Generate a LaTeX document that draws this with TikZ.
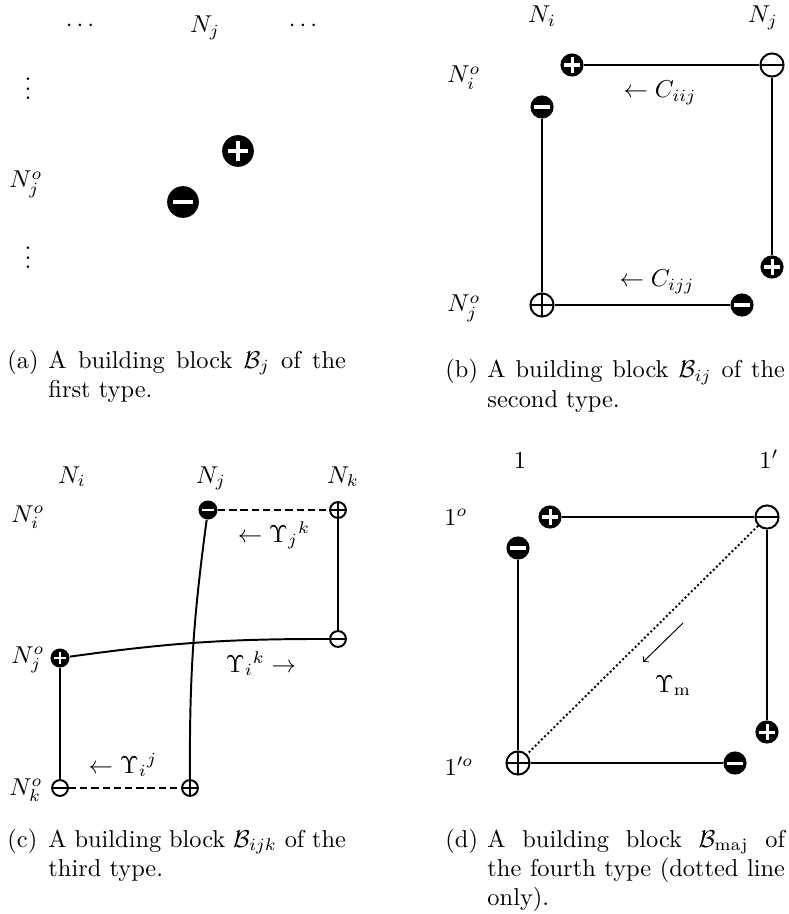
\documentclass[tikz,border=0pt]{standalone}
\tikzset{
  sgn/.style={circle, inner sep=0pt, minimum size=#1},
  fp/.style={sgn=#1, fill=black, path picture={
      \draw[white, line width=0.13*#1]
        ([xshift=-0.33*#1]path picture bounding box.center) -- ([xshift=0.33*#1]path picture bounding box.center)
        ([yshift=-0.33*#1]path picture bounding box.center) -- ([yshift=0.33*#1]path picture bounding box.center);}},
  fm/.style={sgn=#1, fill=black, path picture={
      \draw[white, line width=0.13*#1]
        ([xshift=-0.33*#1]path picture bounding box.center) -- ([xshift=0.33*#1]path picture bounding box.center);}},
  op/.style={sgn=#1, draw, fill=white, thick, path picture={
      \draw[thick] (path picture bounding box.west) -- (path picture bounding box.east)
        (path picture bounding box.north) -- (path picture bounding box.south);}},
  om/.style={sgn=#1, draw, fill=white, thick, path picture={
      \draw[thick] (path picture bounding box.west) -- (path picture bounding box.east);}},
  lbl/.style={inner sep=0pt, anchor=base},
  sublbl/.style={inner sep=0pt, anchor=base west},
  capbox/.style={inner sep=0pt, anchor=base west, text width=122pt, align=justify},
  wire/.style={thick},
  dsh/.style={thick, dash pattern=on 3pt off 1.6pt},
}
\begin{document}
\begin{tikzpicture}[x=0.41pt, y=-0.41pt]
  \useasboundingbox (0,0) rectangle (788,914);

  \node[lbl] (a-dl) at (80,32) {$\cdots$};
  \node[lbl] (a-nj) at (205,33) {$N_j$};
  \node[lbl] (a-dr) at (303,32) {$\cdots$};
  \node[lbl] (a-vu) at (28,100) {$\vdots$};
  \node[lbl] (a-njo) at (26,188) {$N_j^o$};
  \node[lbl] (a-vd) at (28,269) {$\vdots$};
  \node[fp=13pt] (a-p) at (238,151) {};
  \node[fm=13pt] (a-m) at (183,202) {};
  \node[sublbl] (a-lab) at (7,368) {(a)};
  \node[capbox] (a-cap) at (48,368) {A building block $\mathcal{B}_j$ of the\linebreak first type.};

  \node[lbl] (b-ni) at (542,23) {$N_i$};
  \node[lbl] (b-nj) at (763,23) {$N_j$};
  \node[lbl] (b-nio) at (464,83) {$N_i^o$};
  \node[lbl] (b-njo) at (464,312) {$N_j^o$};
  \node[fp=9.5pt] (b-p1) at (572,65) {};
  \node[om=9.5pt] (b-m2) at (772,65) {};
  \node[fm=9.5pt] (b-m1) at (542,107) {};
  \node[fp=9.5pt] (b-p3) at (772,267) {};
  \node[op=9.5pt] (b-p2) at (542,305) {};
  \node[fm=9.5pt] (b-m3) at (742,305) {};
  \draw[wire] (b-p1) -- (b-m2);
  \draw[wire] (b-m2) -- (b-p3);
  \draw[wire] (b-m1) -- (b-p2);
  \draw[wire] (b-p2) -- (b-m3);
  \node[lbl] (b-c1) at (660,98) {$\leftarrow C_{iij}$};
  \node[lbl] (b-c2) at (657,287) {$\leftarrow C_{ijj}$};
  \node[sublbl] (b-lab) at (445,378) {(b)};
  \node[capbox] (b-cap) at (487,378) {A building block $\mathcal{B}_{ij}$ of the\linebreak second type.};

  \node[lbl] (c-ni) at (72,483) {$N_i$};
  \node[lbl] (c-nj) at (211,483) {$N_j$};
  \node[lbl] (c-nk) at (343,483) {$N_k$};
  \node[lbl] (c-nio) at (28,522) {$N_i^o$};
  \node[lbl] (c-njo) at (28,663) {$N_j^o$};
  \node[lbl] (c-nko) at (26,795) {$N_k^o$};
  \node[fm=7.8pt] (c-m1) at (208,510) {};
  \node[op=6.5pt] (c-p1) at (338,510) {};
  \node[om=6.5pt] (c-m2) at (338,639) {};
  \node[fp=7.8pt] (c-p2) at (60,658) {};
  \node[om=6.5pt] (c-m3) at (60,788) {};
  \node[op=6.5pt] (c-p3) at (190,788) {};
  \draw[dsh] (c-m1) -- (c-p1);
  \draw[wire] (c-p1) -- (c-m2);
  \draw[wire] (c-m2) to[bend right=4] (c-p2);
  \draw[wire] (c-p2) -- (c-m3);
  \draw[dsh] (c-m3) -- (c-p3);
  \draw[wire] (c-m1) to[bend right=4] (c-p3);
  \node[lbl] (c-u1) at (274,542) {$\leftarrow \Upsilon_j{}^k$};
  \node[lbl] (c-u2) at (261,672) {$\Upsilon_i{}^k \rightarrow$};
  \node[lbl] (c-u3) at (123,773) {$\leftarrow \Upsilon_i{}^j$};
  \node[sublbl] (c-lab) at (7,847) {(c)};
  \node[capbox] (c-cap) at (48,847) {A building block $\mathcal{B}_{ijk}$ of the\linebreak third type.};

  \node[lbl] (d-n1) at (520,468) {$1$};
  \node[lbl] (d-n2) at (769,468) {$1'$};
  \node[lbl] (d-n1o) at (456,525) {$1^o$};
  \node[lbl] (d-n2o) at (459,775) {$1'^o$};
  \node[fp=9.5pt] (d-p1) at (550,517) {};
  \node[om=9.5pt] (d-m2) at (767,517) {};
  \node[fm=9.5pt] (d-m1) at (518,548) {};
  \node[fp=9.5pt] (d-p3) at (767,732) {};
  \node[op=9.5pt] (d-p2) at (518,763) {};
  \node[fm=9.5pt] (d-m3) at (735,763) {};
  \draw[wire] (d-p1) -- (d-m2);
  \draw[wire] (d-m2) -- (d-p3);
  \draw[wire] (d-m1) -- (d-p2);
  \draw[wire] (d-p2) -- (d-m3);
  \draw[thick, densely dotted] (d-m2) -- (d-p2);
  \coordinate (d-a1) at (683,623);
  \coordinate (d-a2) at (643,662);
  \draw[->] (d-a1) -- (d-a2);
  \node[lbl] (d-um) at (673,692) {$\Upsilon_{\mathrm{m}}$};
  \node[sublbl] (d-lab) at (445,847) {(d)};
  \node[capbox] (d-cap) at (487,847) {A building block $\mathcal{B}_{\mathrm{maj}}$ of\linebreak the fourth type (dotted line\linebreak only).};
\end{tikzpicture}
\end{document}
